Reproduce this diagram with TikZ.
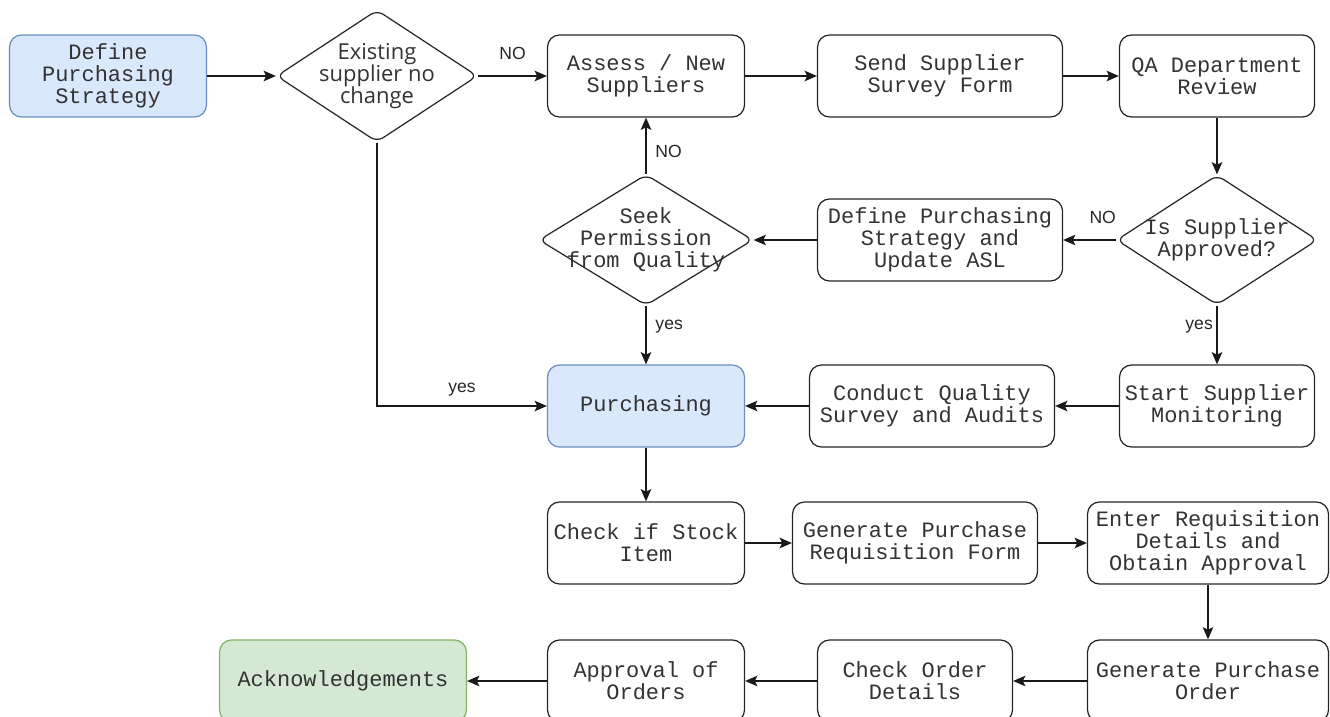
\documentclass[tikz,border=0pt]{standalone}
\usepackage{fontspec}
\newfontfamily\boxfont{Liberation Mono}
\newfontfamily\askfont{Open Sans}
\newfontfamily\labfont{Liberation Sans}
\usetikzlibrary{shapes.geometric,arrows.meta}
\definecolor{bluefill}{HTML}{DAE8FC}
\definecolor{blueline}{HTML}{6C8EBF}
\definecolor{greenfill}{HTML}{D5E8D4}
\definecolor{greenline}{HTML}{82B366}
\tikzset{
    stepbox/.style={draw=black!85, line width=0.7pt, rounded corners=0.24cm,
        minimum height=1.64cm, minimum width=3.94cm, inner sep=0pt, align=center,
        text=black!80, font=\boxfont\fontsize{12.5}{12.5}\selectfont},
    bluebox/.style={stepbox, fill=bluefill, draw=blueline},
    greenbox/.style={stepbox, fill=greenfill, draw=greenline},
    ask/.style={diamond, draw=black!85, line width=0.7pt, rounded corners=0.15cm,
        inner sep=-0.2cm, align=center, text=black!80,
        font=\boxfont\fontsize{12.5}{12.5}\selectfont},
    arr/.style={-{Stealth[length=7pt,width=6pt,inset=1.5pt]}, line width=0.8pt, black!90},
    lab/.style={font=\labfont\fontsize{10}{11}\selectfont, text=black!85, inner sep=5pt}
}
\begin{document}
\begin{tikzpicture}[x=0.02cm, y=-0.02cm]
    \useasboundingbox (0,0) rectangle (1330,717);

    % first row
    \node[bluebox] (define) at (108,76) {Define\\Purchasing\\Strategy};
    \node[ask, shape aspect=1.52, minimum width=4.02cm, minimum height=2.64cm,
          font=\askfont\fontsize{12.5}{12.5}\selectfont] (exist) at (377,76)
          {Existing\\supplier no\\change};
    \node[stepbox] (assess) at (646,76) {Assess / New\\Suppliers};
    \node[stepbox, minimum width=4.9cm] (send) at (940,76) {Send Supplier\\Survey Form};
    \node[stepbox, minimum width=3.9cm] (qa) at (1217,76) {QA Department\\Review};

    % second row (decisions)
    \node[ask, shape aspect=1.63, minimum width=4.28cm, minimum height=2.62cm] (seek)
          at (646,240) {Seek\\Permission\\from Quality};
    \node[stepbox, minimum width=4.9cm] (asl) at (940,240)
          {Define Purchasing\\Strategy and\\Update ASL};
    \node[ask, shape aspect=1.55, minimum width=4.02cm, minimum height=2.6cm] (approved)
          at (1217,240) {Is Supplier\\Approved?};

    % third row
    \node[bluebox] (purch) at (646,406) {Purchasing};
    \node[stepbox, minimum width=4.9cm] (audit) at (932,406)
          {Conduct Quality\\Survey and Audits};
    \node[stepbox, minimum width=3.9cm] (monitor) at (1217,406)
          {Start Supplier\\Monitoring};

    % fourth row
    \node[stepbox] (stock) at (646,543) {Check if Stock\\Item};
    \node[stepbox, minimum width=4.9cm] (reqform) at (915,543)
          {Generate Purchase\\Requisition Form};
    \node[stepbox, minimum width=4.82cm] (enter) at (1208,543)
          {Enter Requisition\\Details and\\Obtain Approval};

    % fifth row
    \node[stepbox, minimum width=4.82cm] (order) at (1208,681)
          {Generate Purchase\\Order};
    \node[stepbox, minimum width=3.9cm] (details) at (915,681) {Check Order\\Details};
    \node[stepbox] (approval) at (646,681) {Approval of\\Orders};
    \node[greenbox, minimum width=4.94cm] (ack) at (343,681) {Acknowledgements};

    % connectors
    \draw[arr] (define) -- (exist);
    \draw[arr] (exist) -- node[lab, above, yshift=4pt] {NO} (assess);
    \draw[arr] (exist.south) |- node[lab, above, pos=0.75] {yes} (purch);
    \draw[arr] (assess) -- (send);
    \draw[arr] (send) -- (qa);
    \draw[arr] (qa) -- (approved);
    \draw[arr] (approved) -- node[lab, above, pos=0.25, yshift=4pt] {NO} (asl);
    \draw[arr] (asl) -- (seek);
    \draw[arr] (seek) -- node[lab, right, pos=0.4] {NO} (assess);
    \draw[arr] (seek) -- node[lab, right, pos=0.35] {yes} (purch);
    \draw[arr] (approved) -- node[lab, left, pos=0.35, inner sep=2pt] {yes} (monitor);
    \draw[arr] (monitor) -- (audit);
    \draw[arr] (audit) -- (purch);
    \draw[arr] (purch) -- (stock);
    \draw[arr] (stock) -- (reqform);
    \draw[arr] (reqform) -- (enter);
    \draw[arr] (enter) -- (order);
    \draw[arr] (order) -- (details);
    \draw[arr] (details) -- (approval);
    \draw[arr] (approval) -- (ack);
\end{tikzpicture}
\end{document}
